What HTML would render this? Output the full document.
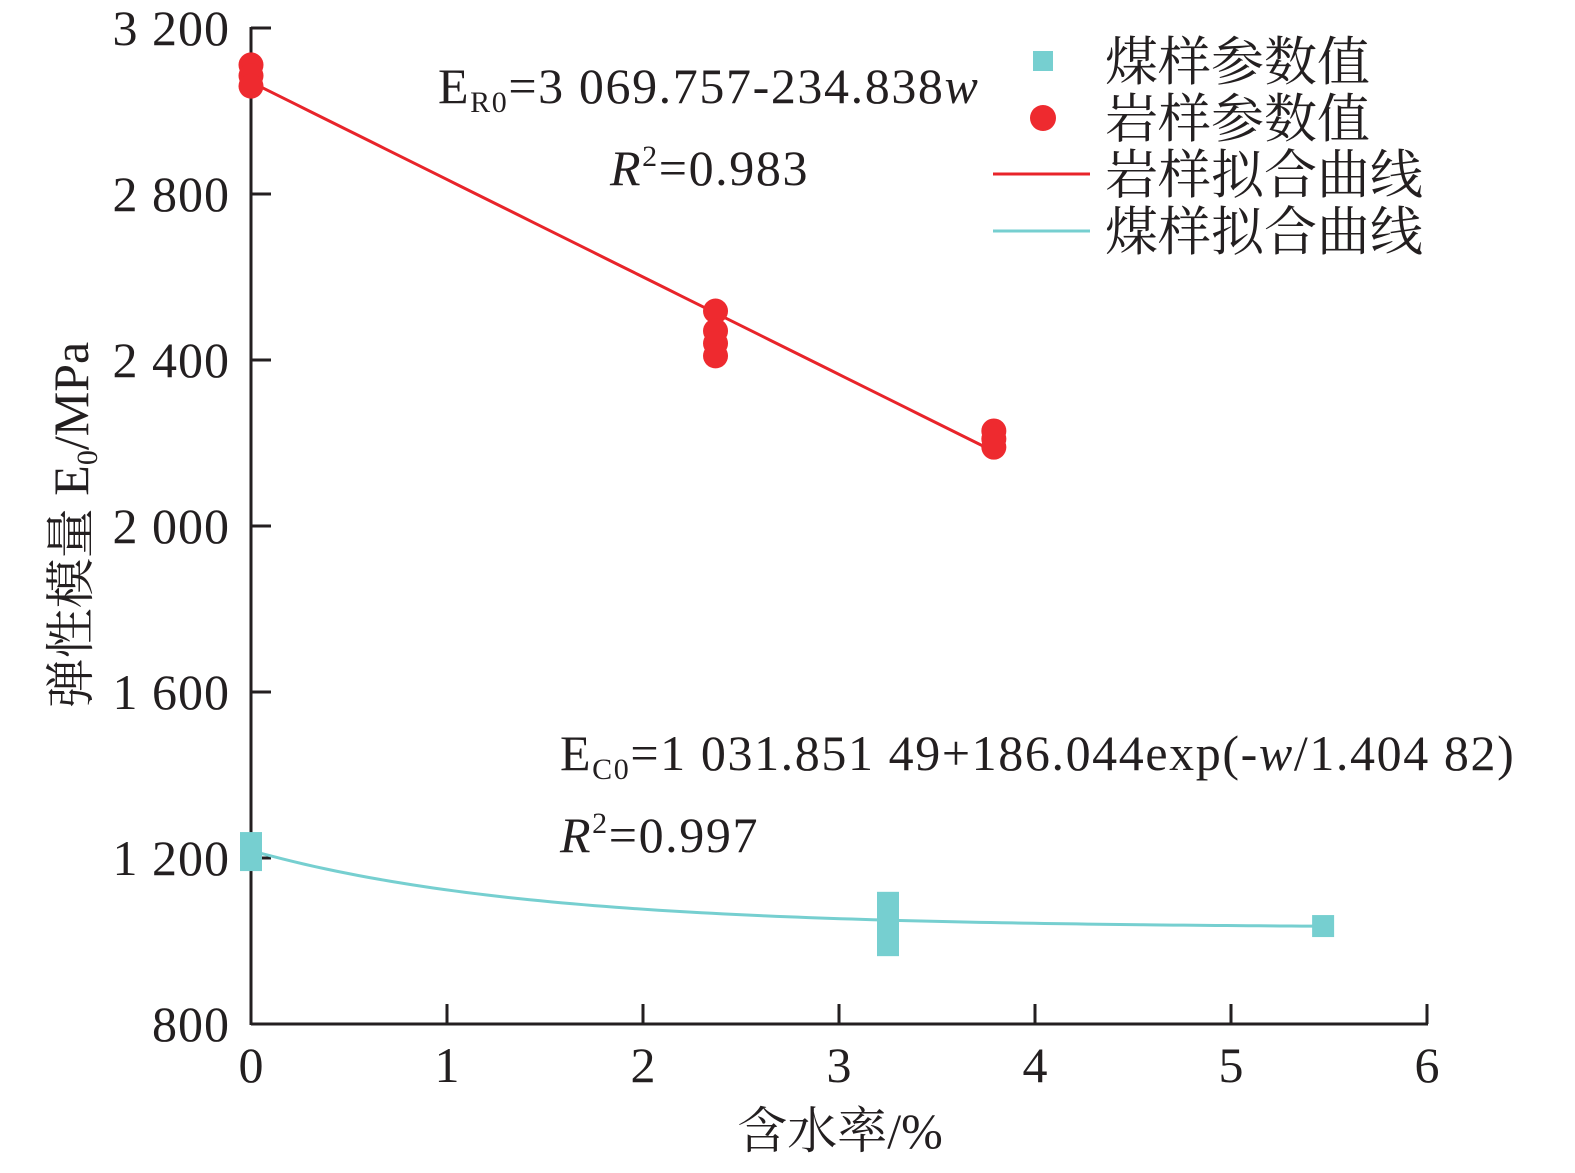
<!DOCTYPE html><html><head><meta charset="utf-8"><style>
body{margin:0;background:#fff}
svg text{font-family:"Liberation Serif","Noto Serif CJK SC",serif;fill:#231f20}
</style></head><body>
<svg width="1575" height="1168">
<g id="axes"></g><g id="marks"></g>
<text x="438" y="103" font-size="50" letter-spacing="1.6">E<tspan font-size="30" dy="9">R0</tspan><tspan dy="-9">=3 069.757-234.838</tspan><tspan font-style="italic">w</tspan></text>
<text x="610" y="185" font-size="50" letter-spacing="1.6"><tspan font-style="italic">R</tspan><tspan font-size="30" dy="-19">2</tspan><tspan dy="19">=0.983</tspan></text>
<text x="560" y="770" font-size="50" letter-spacing="1.6">E<tspan font-size="30" dy="9">C0</tspan><tspan dy="-9">=1 031.851 49+186.044exp(-</tspan><tspan font-style="italic">w</tspan><tspan>/1.404 82)</tspan></text>
<text x="560" y="852" font-size="50" letter-spacing="1.6"><tspan font-style="italic">R</tspan><tspan font-size="30" dy="-19">2</tspan><tspan dy="19">=0.997</tspan></text>
<g font-size="53">
<rect x="1033" y="51" width="20" height="20" fill="#76cfd0"/><text x="1105" y="80">煤样参数值</text>
<circle cx="1043" cy="118" r="13" fill="#ee2a2f"/><text x="1105" y="137">岩样参数值</text>
<line x1="993" y1="174" x2="1090" y2="174" stroke="#e8242a" stroke-width="3"/><text x="1105" y="193">岩样拟合曲线</text>
<line x1="993" y1="231" x2="1090" y2="231" stroke="#76cfd0" stroke-width="3"/><text x="1105" y="250">煤样拟合曲线</text>
</g>
<text x="840" y="1148" font-size="50" text-anchor="middle">含水率/%</text>
<text transform="translate(88,525) rotate(-90)" font-size="50" text-anchor="middle">弹性模量 E<tspan font-size="30" dy="9">0</tspan><tspan dy="-9">/MPa</tspan></text>
</svg>
<script>
const xTicks=[0,1,2,3,4,5,6];
const yTicks=[800,1200,1600,2000,2400,2800,3200];
const yTickLabels=["800","1 200","1 600","2 000","2 400","2 800","3 200"];
const rockW=[0,0,0,2.37,2.37,2.37,2.37,3.79,3.79,3.79];
const rockE=[3111,3085,3060,2518,2470,2440,2410,2229,2210,2190];
const coalW=[0,0,3.25,3.25,3.25,3.25,3.25,5.47];
const coalE=[1236,1195,1092,1065,1040,1015,990,1036];
const rockFit=[3069.757,-234.838];
const coalFit=[1031.85149,186.044,1.40482];
const X=w=>251+w*196, Y=v=>1024-(v-800)*0.415;
const NS="http://www.w3.org/2000/svg";
function mk(t,a,p){const e=document.createElementNS(NS,t);for(const k in a)e.setAttribute(k,a[k]);p.appendChild(e);return e;}
const ax=document.getElementById('axes'),mg=document.getElementById('marks');
let l=mk('line',{x1:251,y1:1024,x2:1428,y2:1024,stroke:'#231f20','stroke-width':3},ax);


l=mk('line',{x1:251,y1:27,x2:251,y2:1025,stroke:'#231f20','stroke-width':3},ax);


xTicks.forEach(t=>{mk('line',{x1:X(t),y1:1024,x2:X(t),y2:1004,stroke:'#231f20','stroke-width':3},ax);
const tx=mk('text',{x:X(t),y:1082,'font-size':50,'text-anchor':'middle'},ax);tx.textContent=t;

});
yTicks.forEach((t,i)=>{mk('line',{x1:251,y1:Y(t),x2:271,y2:Y(t),stroke:'#231f20','stroke-width':3},ax);
const tx=mk('text',{x:230,y:Y(t)+17,'font-size':50,'text-anchor':'end','letter-spacing':1},ax);tx.textContent=yTickLabels[i];

});
let d='';for(let i=0;i<=50;i++){const w=3.79*i/50;d+=(i?'L':'M')+X(w)+' '+Y(rockFit[0]+rockFit[1]*w);}
let p=mk('path',{d,stroke:'#e8242a','stroke-width':3,fill:'none'},mg);


d='';for(let i=0;i<=100;i++){const w=5.47*i/100;d+=(i?'L':'M')+X(w)+' '+Y(coalFit[0]+coalFit[1]*Math.exp(-w/coalFit[2]));}
p=mk('path',{d,stroke:'#76cfd0','stroke-width':3,fill:'none'},mg);


rockW.forEach((w,i)=>{const c=mk('circle',{cx:X(w),cy:Y(rockE[i]),r:12.5,fill:'#ee2a2f'},mg);

});
coalW.forEach((w,i)=>{const r=mk('rect',{x:X(w)-11,y:Y(coalE[i])-11,width:22,height:22,fill:'#76cfd0'},mg);

});
</script></body></html>
